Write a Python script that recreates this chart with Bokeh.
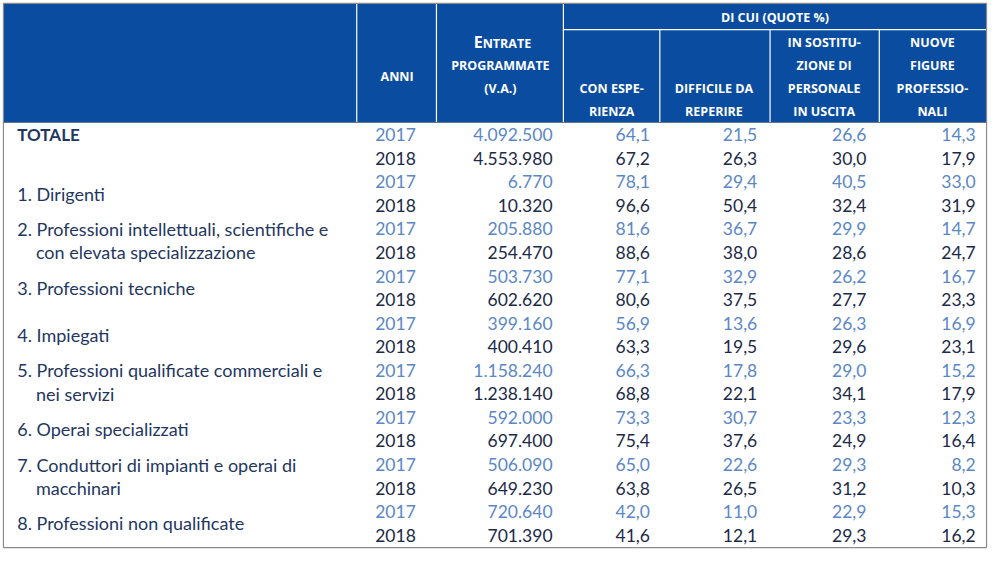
from bokeh.plotting import figure
from bokeh.models import Range1d, ColumnDataSource
from bokeh.embed import file_html
from bokeh.resources import INLINE
from bokeh.core.properties import value

# ---------------- data ----------------
categories = [
    ["TOTALE"],
    ["1. Dirigenti"],
    ["2. Professioni intellettuali, scientifiche e", "con elevata specializzazione"],
    ["3. Professioni tecniche"],
    ["4. Impiegati"],
    ["5. Professioni qualificate commerciali e", "nei servizi"],
    ["6. Operai specializzati"],
    ["7. Conduttori di impianti e operai di", "macchinari"],
    ["8. Professioni non qualificate"],
]
years = [2017, 2018]
entrate_2017 = [4092500, 6770, 205880, 503730, 399160, 1158240, 592000, 506090, 720640]
entrate_2018 = [4553980, 10320, 254470, 602620, 400410, 1238140, 697400, 649230, 701390]
con_esperienza_2017 = [64.1, 78.1, 81.6, 77.1, 56.9, 66.3, 73.3, 65.0, 42.0]
con_esperienza_2018 = [67.2, 96.6, 88.6, 80.6, 63.3, 68.8, 75.4, 63.8, 41.6]
difficile_2017 = [21.5, 29.4, 36.7, 32.9, 13.6, 17.8, 30.7, 22.6, 11.0]
difficile_2018 = [26.3, 50.4, 38.0, 37.5, 19.5, 22.1, 37.6, 26.5, 12.1]
sostituzione_2017 = [26.6, 40.5, 29.9, 26.2, 26.3, 29.0, 23.3, 29.3, 22.9]
sostituzione_2018 = [30.0, 32.4, 28.6, 27.7, 29.6, 34.1, 24.9, 31.2, 29.3]
nuove_2017 = [14.3, 33.0, 14.7, 16.7, 16.9, 15.2, 12.3, 8.2, 15.3]
nuove_2018 = [17.9, 31.9, 24.7, 23.3, 23.1, 17.9, 16.4, 10.3, 16.2]

header_main = ["ANNI"]
header_entrate = ["E", "NTRATE", "PROGRAMMATE", "(V.A.)"]
header_group = "DI CUI (QUOTE %)"
header_sub = [
    ["CON ESPE-", "RIENZA"],
    ["DIFFICILE DA", "REPERIRE"],
    ["IN SOSTITU-", "ZIONE DI", "PERSONALE", "IN USCITA"],
    ["NUOVE", "FIGURE", "PROFESSIO-", "NALI"],
]

# ---------------- styles / layout ----------------
BLUE = "#0a4da0"
C2017 = "#5b87c6"
C2018 = "#1c2a48"
CLABEL = "#1f3760"
GRAY = "#8c8c8c"
HFONT = value("Open Sans")
BFONT = value("Lato")

W, H = 1005, 567
p = figure(width=989, height=551, output_backend="svg", toolbar_location=None,
           x_range=Range1d(0, W), y_range=Range1d(H, 0), min_border=0,
           background_fill_color="white", border_fill_color="white")
p.axis.visible = False
p.grid.visible = False
p.outline_line_color = None

# header block
p.quad(left=[3], right=[1002], top=[3], bottom=[125], fill_color=BLUE, line_color=None)
p.segment(x0=[362, 443, 572, 670, 782, 893], y0=[3, 3, 3, 30, 30, 30],
          x1=[362, 443, 572, 670, 782, 893], y1=[125] * 6, line_color="white", line_width=1.2)
p.segment(x0=[572], y0=[30], x1=[1002], y1=[30], line_color="white", line_width=1.2)
p.quad(left=[3], right=[1002], top=[3], bottom=[563], fill_color=None,
       line_color=GRAY, line_width=1.2)
p.segment(x0=[3], y0=[125.5], x1=[1002], y1=[125.5], line_color="#5d6f8c", line_width=1)

# header texts
hs = "12.5px"

def htext(xs, ys, txt, size=hs, align="center"):
    p.text(x=xs, y=ys, text=txt, text_color="white", text_font=HFONT,
           text_font_style="bold", text_font_size=size, text_align=align,
           text_baseline="middle")

htext([403], [78], header_main)
htext([490], [42.5], [header_entrate[0]], size="16px", align="right")
htext([490], [44], [header_entrate[1]], align="left")
htext([508, 508], [67, 91], header_entrate[2:])
htext([787], [17], [header_group])
sub_x = [621, 725, 837, 947]
line_y = [43, 67, 91, 114]
for cx, lines in zip(sub_x, header_sub):
    ys = line_y[2:] if len(lines) == 2 else line_y
    htext([cx] * len(lines), ys, lines)

# body
Y0, STEP = 138, 24.25

def it_int(v):
    return f"{v:,}".replace(",", ".")

def it_dec(v):
    return f"{v:.1f}".replace(".", ",")

col_right = [422, 561, 660, 769, 880, 991]
series = [
    (entrate_2017, entrate_2018, it_int),
    (con_esperienza_2017, con_esperienza_2018, it_dec),
    (difficile_2017, difficile_2018, it_dec),
    (sostituzione_2017, sostituzione_2018, it_dec),
    (nuove_2017, nuove_2018, it_dec),
]

for k, (yr, col) in enumerate(zip(years, [C2017, C2018])):
    xs, ys, ts = [], [], []
    for i in range(len(categories)):
        y = Y0 + (2 * i + k) * STEP
        xs.append(col_right[0]); ys.append(y); ts.append(str(yr))
        for j, (s17, s18, fmt) in enumerate(series):
            v = (s17, s18)[k][i]
            xs.append(col_right[j + 1]); ys.append(y); ts.append(fmt(v))
    src = ColumnDataSource(dict(x=xs, y=ys, t=ts))
    p.text(x="x", y="y", text="t", source=src, text_color=col, text_font=BFONT,
           text_font_size="17.5px", text_align="right", text_baseline="middle")

# labels
lx, ly, lt = [], [], []
for i, lines in enumerate(categories):
    y17 = Y0 + 2 * i * STEP
    y18 = y17 + STEP
    if i == 0:
        p.text(x=[17], y=[y17], text=lines, text_color=CLABEL, text_font=BFONT,
               text_font_style="bold", text_font_size="17px", text_align="left",
               text_baseline="middle")
        continue
    if len(lines) == 1:
        lx.append(17); ly.append((y17 + y18) / 2); lt.append(lines[0])
    else:
        lx += [17, 36]; ly += [y17, y18]; lt += lines
p.text(x=lx, y=ly, text=lt, text_color=CLABEL, text_font=BFONT,
       text_font_size="18px", text_align="left", text_baseline="middle")

open("out.html", "w").write(file_html(p, INLINE))
